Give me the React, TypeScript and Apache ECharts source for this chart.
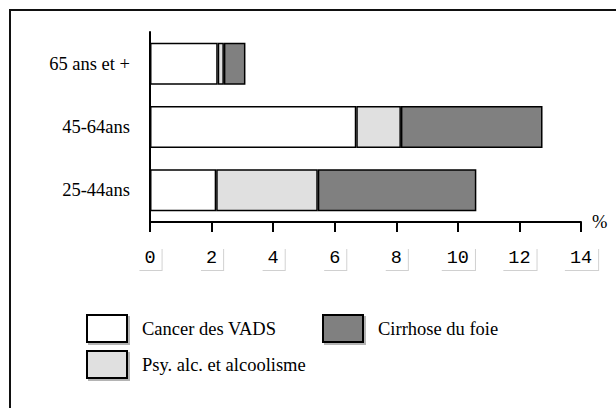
import React, { useEffect, useRef } from "react";
import * as echarts from "echarts";

const categories = ["25-44ans", "45-64ans", "65 ans et +"];
const cancerVADS = [2.15, 6.7, 2.2];
const psyAlc = [3.3, 1.45, 0.2];
const cirrhose = [5.15, 4.6, 0.7];
const seriesNames = ["Cancer des VADS", "Psy. alc. et alcoolisme", "Cirrhose du foie"];
const xMin = 0;
const xMax = 14;
const xInterval = 2;

export default function App() {
  const ref = useRef<HTMLDivElement>(null);
  useEffect(() => {
    if (!ref.current) return;
    const chart = echarts.init(ref.current, undefined, { renderer: "svg" });
    const serif = "Liberation Serif";
    const legendCommon = {
      orient: "horizontal",
      padding: 0,
      itemWidth: 40,
      itemHeight: 27,
      icon: "rect",
      selectedMode: false,
      textStyle: { fontFamily: serif, fontSize: 18.5, color: "#000", padding: [0, 0, 0, 10] },
      itemStyle: { borderColor: "#000", borderWidth: 2, shadowColor: "#b4b4b4", shadowOffsetX: 2, shadowOffsetY: 2, shadowBlur: 0 },
    };
    const barStyle = (color: string) => ({ color, borderColor: "#000", borderWidth: 1.5 });
    chart.setOption({
      animation: false,
      backgroundColor: "#fff",
      graphic: [
        {
          type: "rect",
          shape: { x: 10, y: 10, width: 800, height: 600 },
          style: { fill: "none", stroke: "#111", lineWidth: 2 },
          silent: true,
        },
      ],
      grid: { left: 150, right: 35, top: 32, bottom: 186, containLabel: false },
      legend: [
        { ...legendCommon, data: [seriesNames[0]], left: 86, top: 314 },
        { ...legendCommon, data: [seriesNames[2]], left: 322, top: 314 },
        { ...legendCommon, data: [seriesNames[1]], left: 86, top: 350 },
      ],
      xAxis: {
        type: "value",
        min: xMin,
        max: xMax,
        interval: xInterval,
        splitLine: { show: false },
        axisLine: { show: true, lineStyle: { color: "#000", width: 2 } },
        axisTick: { show: true, length: 10, lineStyle: { color: "#000", width: 2 } },
        axisLabel: {
          margin: 26,
          fontFamily: "Liberation Mono",
          fontSize: 18.5,
          color: "#000",
          backgroundColor: "#fff",
          padding: [1, 6, 2, 6],
          shadowColor: "#d0d0d0",
          shadowOffsetX: 1,
          shadowOffsetY: 1,
          shadowBlur: 0,
        },
        name: "%",
        nameLocation: "end",
        nameGap: 11,
        nameTextStyle: { verticalAlign: "middle", fontFamily: serif, fontSize: 18.5, color: "#000" },
      },
      yAxis: {
        type: "category",
        data: categories,
        axisLine: { show: true, lineStyle: { color: "#000", width: 2 } },
        axisTick: { show: false },
        axisLabel: { margin: 20, fontFamily: serif, fontSize: 18.5, color: "#000" },
      },
      series: [
        { name: seriesNames[0], type: "bar", stack: "t", data: cancerVADS, barWidth: 42, itemStyle: barStyle("#ffffff") },
        { name: seriesNames[1], type: "bar", stack: "t", data: psyAlc, barWidth: 42, itemStyle: barStyle("#e0e0e0") },
        { name: seriesNames[2], type: "bar", stack: "t", data: cirrhose, barWidth: 42, itemStyle: barStyle("#808080") },
      ],
    });
    return () => chart.dispose();
  }, []);
  return <div ref={ref} style={{ position: "absolute", left: 0, top: 0, width: 616, height: 408 }} />;
}
